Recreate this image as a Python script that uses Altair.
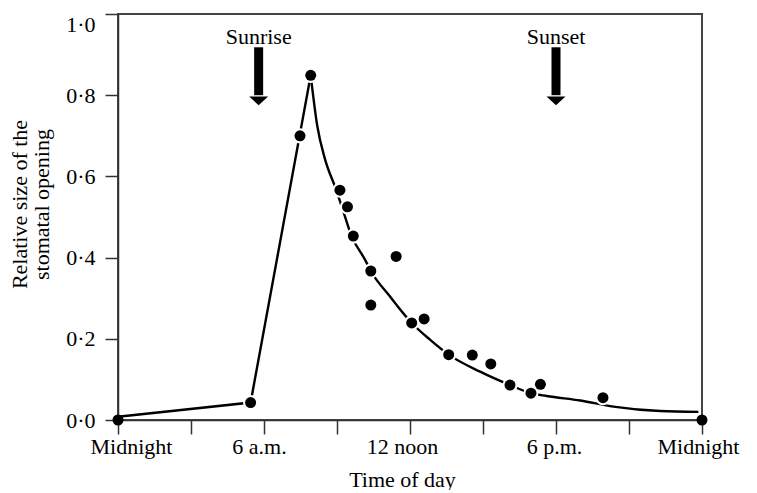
import altair as alt
import pandas as pd

# Observed points (hours since midnight, relative stomatal opening)
point_hours = [0.0, 5.45, 7.48, 7.92, 9.12, 9.43, 9.67, 10.39, 10.39, 11.43,
               12.07, 12.58, 13.59, 14.56, 15.32, 16.11, 16.97, 17.36, 19.93, 24.0]
point_values = [0.0, 0.043, 0.70, 0.849, 0.566, 0.525, 0.453, 0.367, 0.283, 0.403,
                0.239, 0.249, 0.161, 0.160, 0.138, 0.086, 0.066, 0.088, 0.055, 0.0]

# Fitted curve: straight rise, then smooth decay
rise_hours = [0.0, 5.45, 7.92]
rise_values = [0.008, 0.043, 0.849]
decay_hours = [7.92, 8.19, 8.51, 8.96, 9.19, 9.6, 10.15, 10.39, 11.18,
               12.07, 12.82, 13.59, 14.88, 16.11, 16.97, 17.62, 19.0, 20.36, 22.28, 23.85]
decay_values = [0.849, 0.724, 0.642, 0.568, 0.527, 0.453, 0.395, 0.367, 0.304,
                0.239, 0.198, 0.161, 0.119, 0.086, 0.066, 0.059, 0.048, 0.033, 0.022, 0.02]

x_tick_values = [0, 3, 6, 9, 12, 15, 18, 21, 24]
x_tick_labels = ["Midnight", "", "6 a.m.", "", "12 noon", "", "6 p.m.", "", "Midnight"]
y_tick_values = [0.0, 0.2, 0.4, 0.6, 0.8, 1.0]

event_names = ["Sunrise", "Sunset"]
event_hours = [5.78, 18.0]

FONT = "Liberation Serif"

pts = pd.DataFrame({"h": point_hours, "v": point_values})
pts["inner"] = [(0 < h < 24) for h in point_hours]
rise = pd.DataFrame({"h": rise_hours, "v": rise_values})
decay = pd.DataFrame({"h": decay_hours, "v": decay_values})
events = pd.DataFrame({"name": event_names, "h": event_hours,
                       "top": [0.918] * 2, "bottom": [0.80] * 2,
                       "head": [0.786] * 2, "label": [0.926] * 2})

label_expr = " : ".join(
    f"datum.value == {v} ? '{l}'" for v, l in zip(x_tick_values, x_tick_labels)
) + " : ''"

x_scale = alt.Scale(domain=[0, 24], nice=False, zero=False)
y_scale = alt.Scale(domain=[0, 1], nice=False)

x_axis = alt.Axis(
    values=x_tick_values, labelExpr=label_expr, title="Time of day",
    tickSize=14, labelPadding=2, labelFlush=False, labelOverlap=False,
    labelOffset={"condition": [
        {"test": "datum.value == 0", "value": 13},
        {"test": "datum.value == 6", "value": -5},
        {"test": "datum.value == 12", "value": -8},
        {"test": "datum.value == 24", "value": -4},
    ], "value": -2},
    labelFont=FONT, labelFontSize=22, labelColor="black",
    titleFont=FONT, titleFontSize=22, titleFontWeight="normal", titleColor="black",
    titleX=284, titleY=66, titleBaseline="alphabetic",
    domainColor="#333", domainWidth=1.5, tickColor="#333", tickWidth=1.5, grid=False,
)
y_axis = alt.Axis(
    values=y_tick_values, labelExpr="replace(format(datum.value, '.1f'), '.', '·')",
    title=["Relative size of the", "stomatal opening"],
    tickSize=13, labelPadding=10, labelFlush=False, labelOverlap=False,
    labelBaseline={"condition": {"test": "datum.value == 1", "value": "top"}, "value": "middle"},
    labelFont=FONT, labelFontSize=22, labelColor="black",
    titleFont=FONT, titleFontSize=22, titleFontWeight="normal", titleColor="black",
    titleAngle=270, titleX=-109, titleY=190, titleBaseline="top", titleAlign="center",
    titleLineHeight=22,
    domainColor="#333", domainWidth=1.5, tickColor="#333", tickWidth=1.5, grid=False,
)

rise_line = alt.Chart(rise).mark_line(color="black", strokeWidth=2.4).encode(
    x=alt.X("h:Q", scale=x_scale, axis=x_axis),
    y=alt.Y("v:Q", scale=y_scale, axis=y_axis),
)
decay_line = alt.Chart(decay).mark_line(
    color="black", strokeWidth=2.4, interpolate="monotone"
).encode(x=alt.X("h:Q", scale=x_scale), y=alt.Y("v:Q", scale=y_scale))

halo = alt.Chart(pts).transform_filter("datum.inner").mark_point(
    shape="circle", filled=True, color="white", size=230, opacity=1
).encode(x=alt.X("h:Q", scale=x_scale), y=alt.Y("v:Q", scale=y_scale))

dots = alt.Chart(pts).mark_point(
    shape="circle", filled=True, color="black", size=121, opacity=1
).encode(x=alt.X("h:Q", scale=x_scale), y=alt.Y("v:Q", scale=y_scale))

shaft = alt.Chart(events).mark_rule(color="black", strokeWidth=9, strokeCap="butt").encode(
    x=alt.X("h:Q", scale=x_scale), y=alt.Y("top:Q", scale=y_scale), y2="bottom:Q"
)
head = alt.Chart(events).mark_point(
    shape="M -1 -0.47 L 1 -0.47 L 0 0.47 Z", filled=True, color="black", size=361, opacity=1
).encode(x=alt.X("h:Q", scale=x_scale), y=alt.Y("head:Q", scale=y_scale))
labels = alt.Chart(events).mark_text(
    font=FONT, fontSize=22, color="black", baseline="alphabetic", align="center"
).encode(x=alt.X("h:Q", scale=x_scale), y=alt.Y("label:Q", scale=y_scale), text="name:N")

chart = alt.layer(rise_line, decay_line, halo, dots, shaft, head, labels).properties(
    width=584, height=406,
    autosize=alt.AutoSizeParams(type="none"),
    padding={"left": 110, "top": 6, "right": 40, "bottom": 70},
    background="white",
).configure_view(stroke="#444", strokeWidth=2)

chart.save("out.html", embed_options={"renderer": "svg", "actions": False})
